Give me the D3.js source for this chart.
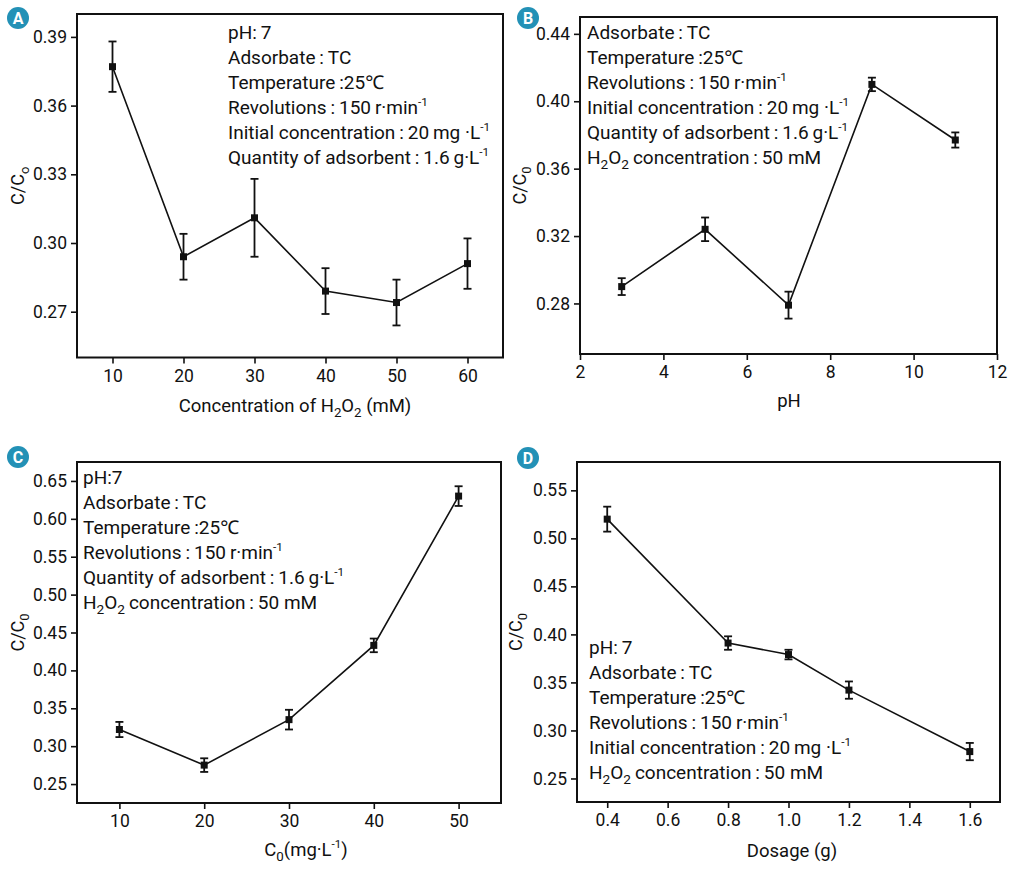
<!DOCTYPE html>
<html>
<head>
<meta charset="utf-8">
<script src="https://cdn.jsdelivr.net/npm/d3@7"></script>
<style>
  body { margin: 0; background: #ffffff; }
  svg { font-family: Roboto, "Noto Sans", sans-serif; }
</style>
</head>
<body>
<svg id="chart" width="1015" height="876"></svg>
<script>
'use strict';

// A: effect of H2O2 concentration
var concH2O2 = [10, 20, 30, 40, 50, 60];
var ratioA = [0.377, 0.294, 0.311, 0.279, 0.274, 0.291];
var errA = [0.011, 0.010, 0.017, 0.010, 0.010, 0.011];
var xTicksA = [10, 20, 30, 40, 50, 60];
var yTicksA = [0.27, 0.30, 0.33, 0.36, 0.39];

// B: effect of pH
var phValues = [3, 5, 7, 9, 11];
var ratioB = [0.290, 0.324, 0.279, 0.410, 0.377];
var errB = [0.005, 0.007, 0.008, 0.004, 0.0045];
var xTicksB = [2, 4, 6, 8, 10, 12];
var yTicksB = [0.28, 0.32, 0.36, 0.40, 0.44];

// C: effect of initial concentration
var initConc = [10, 20, 30, 40, 50];
var ratioC = [0.322, 0.275, 0.335, 0.433, 0.630];
var errC = [0.010, 0.009, 0.013, 0.009, 0.013];
var xTicksC = [10, 20, 30, 40, 50];
var yTicksC = [0.25, 0.30, 0.35, 0.40, 0.45, 0.50, 0.55, 0.60, 0.65];

// D: effect of dosage
var dosage = [0.4, 0.8, 1.0, 1.2, 1.6];
var ratioD = [0.520, 0.391, 0.379, 0.342, 0.278];
var errD = [0.013, 0.007, 0.005, 0.009, 0.009];
var xTicksD = [0.4, 0.6, 0.8, 1.0, 1.2, 1.4, 1.6];
var yTicksD = [0.25, 0.30, 0.35, 0.40, 0.45, 0.50, 0.55];

var S = '\u2009'; // thin space

var svg = d3.select('#chart');

// text with sub / superscript pieces: [str, 'sub'|'sup'|undefined]
function richText(sel, parts, size) {
  var shift = 0; // current baseline offset
  parts.forEach(function (p) {
    var want = 0, fs = size;
    if (p[1] === 'sub') { want = size * 0.28; fs = size * 0.72; }
    if (p[1] === 'sup') { want = -size * 0.42; fs = size * 0.62; }
    var t = sel.append('tspan').text(p[0]).attr('font-size', fs);
    if (want !== shift) { t.attr('dy', want - shift); shift = want; }
  });
}

function drawPanel(cfg) {
  var g = svg.append('g');
  var x = d3.scaleLinear().domain(cfg.xDomain).range([cfg.left, cfg.right]);
  var y = d3.scaleLinear().domain(cfg.yDomain).range([cfg.bottom, cfg.top]);

  var xAxis = g.append('g')
    .attr('transform', 'translate(0,' + cfg.bottom + ')')
    .call(d3.axisBottom(x).tickValues(cfg.xTicks).tickSize(6).tickPadding(6)
      .tickFormat(cfg.xFormat));
  var yAxis = g.append('g')
    .attr('transform', 'translate(' + cfg.left + ',0)')
    .call(d3.axisLeft(y).tickValues(cfg.yTicks).tickSize(6).tickPadding(4)
      .tickFormat(d3.format('.2f')));
  [xAxis, yAxis].forEach(function (a) {
    a.select('.domain').remove();
    a.selectAll('line').attr('stroke', '#111').attr('stroke-width', 1.6);
    a.selectAll('text').attr('font-size', 17.5).attr('fill', '#111')
      .attr('font-family', 'Roboto');
  });

  // frame
  g.append('rect')
    .attr('x', cfg.left).attr('y', cfg.top)
    .attr('width', cfg.right - cfg.left).attr('height', cfg.bottom - cfg.top)
    .attr('fill', 'none').attr('stroke', '#111').attr('stroke-width', 2);

  var pts = cfg.xs.map(function (v, i) { return { x: v, y: cfg.ys[i], e: cfg.errs[i] }; });

  g.append('path').datum(pts)
    .attr('fill', 'none').attr('stroke', '#111').attr('stroke-width', 1.6)
    .attr('d', d3.line().x(function (d) { return x(d.x); }).y(function (d) { return y(d.y); }));

  // error bars
  var eb = g.append('g').selectAll('g').data(pts).join('g')
    .attr('stroke', '#111').attr('stroke-width', 1.8);
  eb.append('line')
    .attr('x1', function (d) { return x(d.x); }).attr('x2', function (d) { return x(d.x); })
    .attr('y1', function (d) { return y(d.y + d.e); }).attr('y2', function (d) { return y(d.y - d.e); });
  eb.append('line')
    .attr('x1', function (d) { return x(d.x) - 4; }).attr('x2', function (d) { return x(d.x) + 4; })
    .attr('y1', function (d) { return y(d.y + d.e); }).attr('y2', function (d) { return y(d.y + d.e); });
  eb.append('line')
    .attr('x1', function (d) { return x(d.x) - 4; }).attr('x2', function (d) { return x(d.x) + 4; })
    .attr('y1', function (d) { return y(d.y - d.e); }).attr('y2', function (d) { return y(d.y - d.e); });

  g.append('g').selectAll('rect').data(pts).join('rect')
    .attr('x', function (d) { return x(d.x) - 3.5; })
    .attr('y', function (d) { return y(d.y) - 3.5; })
    .attr('width', 7).attr('height', 7).attr('fill', '#111');

  // axis titles
  var xt = g.append('text').attr('x', cfg.xTitleX).attr('y', cfg.xTitleY)
    .attr('text-anchor', 'middle').attr('font-size', 18.5).attr('fill', '#111');
  richText(xt, cfg.xTitle, 18.5);

  var yt = g.append('text')
    .attr('transform', 'translate(' + cfg.yTitleX + ',' + ((cfg.top + cfg.bottom) / 2) + ') rotate(-90)')
    .attr('text-anchor', 'middle').attr('font-size', 18).attr('fill', '#111');
  richText(yt, [['C/C'], [cfg.sub0, 'sub']], 18);

  // condition notes
  cfg.notes.forEach(function (line, i) {
    var t = g.append('text').attr('x', cfg.noteX).attr('y', cfg.noteY + i * 25)
      .attr('font-size', 19).attr('fill', '#111');
    richText(t, line, 19);
  });

  // panel badge
  g.append('circle').attr('cx', cfg.badge[0]).attr('cy', cfg.badge[1]).attr('r', 11)
    .attr('fill', '#2391b6');
  g.append('text').attr('x', cfg.badge[0]).attr('y', cfg.badge[1] + 5.5)
    .attr('text-anchor', 'middle').attr('font-size', 16).attr('font-weight', 'bold')
    .attr('fill', '#fff').text(cfg.letter);
}

var ph = [['pH:' + S + '7']];
var ads = [['Adsorbate' + S + ':' + S + 'TC']];
var temp = [['Temperature' + S + ':25\u2103']];
var rev = [['Revolutions' + S + ':' + S + '150' + S + 'r\u00b7min'], ['-1', 'sup']];
var init = [['Initial concentration' + S + ':' + S + '20' + S + 'mg ' + '\u00b7L'], ['-1', 'sup']];
var qty = [['Quantity of adsorbent' + S + ':' + S + '1.6' + S + 'g\u00b7L'], ['-1', 'sup']];
var h2o2 = [['H'], ['2', 'sub'], ['O'], ['2', 'sub'], [S + 'concentration' + S + ':' + S + '50 mM']];

drawPanel({
  letter: 'A', badge: [18, 18],
  left: 77, right: 503, top: 14, bottom: 357.5,
  xDomain: [5, 65], yDomain: [0.25, 0.40],
  xTicks: xTicksA, yTicks: yTicksA, xFormat: d3.format('d'),
  xs: concH2O2, ys: ratioA, errs: errA,
  xTitle: [['Concentration of H'], ['2', 'sub'], ['O'], ['2', 'sub'], [' (mM)']],
  xTitleX: 295, xTitleY: 412, yTitleX: 24, sub0: 'o',
  noteX: 228, noteY: 39, notes: [ph, ads, temp, rev, init, qty]
});

drawPanel({
  letter: 'B', badge: [528, 18],
  left: 580, right: 997, top: 17, bottom: 354,
  xDomain: [2, 12], yDomain: [0.25, 0.45],
  xTicks: xTicksB, yTicks: yTicksB, xFormat: d3.format('d'),
  xs: phValues, ys: ratioB, errs: errB,
  xTitle: [['pH']],
  xTitleX: 789, xTitleY: 407, yTitleX: 526, sub0: '0',
  noteX: 587, noteY: 39, notes: [ads, temp, rev, init, qty, h2o2]
});

drawPanel({
  letter: 'C', badge: [18, 457],
  left: 77, right: 501, top: 462, bottom: 803,
  xDomain: [5, 55], yDomain: [0.225, 0.675],
  xTicks: xTicksC, yTicks: yTicksC, xFormat: d3.format('d'),
  xs: initConc, ys: ratioC, errs: errC,
  xTitle: [['C'], ['0', 'sub'], ['(mg\u00b7L'], ['-1', 'sup'], [')']],
  xTitleX: 306, xTitleY: 856, yTitleX: 24, sub0: '0',
  noteX: 83, noteY: 484, notes: [[['pH:7']], ads, temp, rev, qty, h2o2]
});

drawPanel({
  letter: 'D', badge: [528, 458],
  left: 577, right: 1000, top: 462, bottom: 802,
  xDomain: [0.3, 1.7], yDomain: [0.2255, 0.5795],
  xTicks: xTicksD, yTicks: yTicksD, xFormat: d3.format('.1f'),
  xs: dosage, ys: ratioD, errs: errD,
  xTitle: [['Dosage (g)']],
  xTitleX: 792, xTitleY: 857, yTitleX: 522, sub0: '0',
  noteX: 589, noteY: 654, notes: [ph, ads, temp, rev, init, h2o2]
});
</script>
</body>
</html>
